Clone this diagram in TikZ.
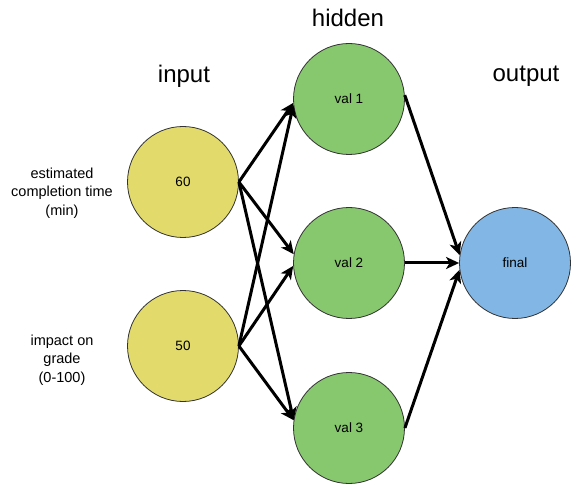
\documentclass[tikz,border=0pt]{standalone}
\usepackage{fontspec}
\setmainfont{Liberation Sans}
\usetikzlibrary{arrows.meta}
\definecolor{inyellow}{HTML}{E2DB6C}
\definecolor{hidgreen}{HTML}{87C76E}
\definecolor{outblue}{HTML}{82B7E5}
\definecolor{rim}{HTML}{333333}
\begin{document}
\begin{tikzpicture}[x=1pt,y=-1pt,
  neuron/.style={circle,draw=rim,line width=0.8pt,minimum size=111pt,inner sep=0pt,font=\fontsize{13.5}{16}\selectfont},
  layertitle/.style={font=\fontsize{24}{28}\selectfont},
  sidelabel/.style={align=center,font=\fontsize{14.5}{18.5}\selectfont},
  link/.style={line width=3pt,-{Stealth[length=13pt,width=12pt,inset=3.5pt]}}]
\useasboundingbox (0,0) rectangle (578,486);

% layer titles
\node[layertitle] (tin) at (184,76) {input};
\node[layertitle] (thid) at (348,18) {hidden};
\node[layertitle] (tout) at (526,76) {output};

% input features
\node[sidelabel] (lab1) at (62,193) {estimated\\completion time\\(min)};
\node[sidelabel] (lab2) at (62,360) {impact on\\grade\\(0-100)};

% neurons
\node[neuron,fill=inyellow] (i1) at (183,182) {60};
\node[neuron,fill=inyellow] (i2) at (183,346) {50};
\node[neuron,fill=hidgreen] (h1) at (349,99) {val 1};
\node[neuron,fill=hidgreen] (h2) at (349,263) {val 2};
\node[neuron,fill=hidgreen] (h3) at (349,428) {val 3};
\node[neuron,fill=outblue] (o) at (515,263) {final};

% input -> hidden
\draw[link] (i1.east) -- (h1.184);
\draw[link] (i1.east) -- (h2.171);
\draw[link] (i1.east) -- (h3.172);
\draw[link] (i2.east) -- (h1.186);
\draw[link] (i2.east) -- (h2.183);
\draw[link] (i2.east) -- (h3.172);

% hidden -> output
\draw[link] (h1.4) -- (o.172);
\draw[link] (h2.east) -- (o.west);
\draw[link] (h3.east) -- (o.187);
\end{tikzpicture}
\end{document}
